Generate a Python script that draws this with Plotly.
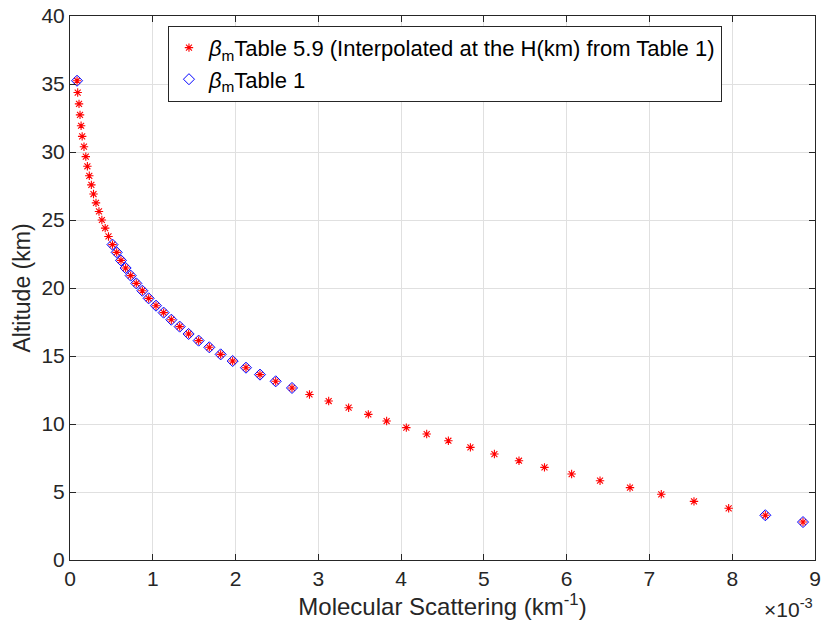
import plotly.graph_objects as go

# Altitude (km) of each point of the interpolated series
alt_table59 = [35.24, 34.37, 33.54, 32.73, 31.93, 31.15, 30.39, 29.66, 28.95, 28.25,
               27.58, 26.91, 26.26, 25.63, 25.00, 24.40, 23.79, 23.19, 22.62, 22.03,
               21.47, 20.91, 20.34, 19.80, 19.24, 18.70, 18.19, 17.67, 17.16, 16.62,
               16.13, 15.64, 15.12, 14.63, 14.14, 13.63, 13.14, 12.65, 12.17, 11.69,
               11.20, 10.71, 10.22, 9.73, 9.26, 8.77, 8.28, 7.79, 7.30, 6.81,
               6.32, 5.83, 5.32, 4.83, 4.31, 3.80, 3.29, 2.79]
# Molecular scattering (x 1e-3 km^-1)
beta_table59 = [0.085, 0.093, 0.109, 0.121, 0.134, 0.147, 0.169, 0.191, 0.210, 0.233,
                0.258, 0.284, 0.314, 0.350, 0.385, 0.425, 0.465, 0.513, 0.564, 0.616,
                0.672, 0.733, 0.801, 0.874, 0.950, 1.039, 1.131, 1.224, 1.325, 1.433,
                1.554, 1.683, 1.820, 1.965, 2.126, 2.295, 2.485, 2.682, 2.893, 3.125,
                3.366, 3.604, 3.825, 4.063, 4.309, 4.571, 4.837, 5.127, 5.424, 5.732,
                6.060, 6.403, 6.765, 7.143, 7.538, 7.957, 8.400, 8.855]

alt_table1 = [35.24, 23.19, 22.62, 22.03, 21.47, 20.91, 20.34, 19.80, 19.24, 18.70,
              18.19, 17.67, 17.16, 16.62, 16.13, 15.64, 15.12, 14.63, 14.14, 13.63,
              13.14, 12.65, 3.29, 2.79]
beta_table1 = [0.085, 0.513, 0.564, 0.616, 0.672, 0.733, 0.801, 0.874, 0.950, 1.039,
               1.131, 1.224, 1.325, 1.433, 1.554, 1.683, 1.820, 1.965, 2.126, 2.295,
               2.485, 2.682, 8.400, 8.855]

x_ticks = [0, 1, 2, 3, 4, 5, 6, 7, 8, 9]
y_ticks = [0, 5, 10, 15, 20, 25, 30, 35, 40]

FONT = "Liberation Sans, Arial, sans-serif"
AX = "#262626"
GRID = "#e0e0e0"

fig = go.Figure()
fig.add_trace(go.Scatter(
    x=beta_table59, y=alt_table59, mode="markers",
    name="<i>β</i><sub>m</sub>Table 5.9 (Interpolated at the H(km) from Table 1)",
    marker=dict(symbol="asterisk-open", size=7, color="red",
                line=dict(color="red", width=1.1)),
))
fig.add_trace(go.Scatter(
    x=beta_table1, y=alt_table1, mode="markers",
    name="<i>β</i><sub>m</sub>Table 1",
    marker=dict(symbol="diamond-open", size=8.5, color="blue",
                line=dict(color="blue", width=1)),
))

axis_common = dict(
    showgrid=True, gridcolor=GRID, gridwidth=1,
    showline=True, linecolor=AX, linewidth=1, mirror="ticks",
    ticks="inside", ticklen=6, tickcolor=AX, tickwidth=1,
    zeroline=False, automargin=False,
    tickfont=dict(family=FONT, size=21, color=AX),
)

fig.update_layout(
    width=823, height=632,
    margin=dict(l=70, r=8, t=16, b=72),
    paper_bgcolor="white", plot_bgcolor="white",
    font=dict(family=FONT, color=AX),
    xaxis=dict(range=[0, 9], tickvals=x_ticks, ticktext=[str(v) for v in x_ticks],
               title=dict(text="Molecular Scattering (km<sup>-1</sup>)",
                          font=dict(family=FONT, size=24, color=AX), standoff=8),
               **axis_common),
    yaxis=dict(range=[0, 40], tickvals=y_ticks, ticktext=[str(v) for v in y_ticks],
               title=dict(text="Altitude (km)",
                          font=dict(family=FONT, size=23, color=AX), standoff=4),
               **axis_common),
    legend=dict(x=0.1315, y=0.982, xanchor="left", yanchor="top",
                bgcolor="white", bordercolor=AX, borderwidth=1,
                font=dict(family=FONT, size=22, color="black"),
                tracegroupgap=0),
    showlegend=True,
    annotations=[dict(text="×10<sup>-3</sup>", xref="paper", yref="paper",
                      x=1.0, y=-0.06, xanchor="right", yanchor="top",
                      showarrow=False, font=dict(family=FONT, size=21, color=AX))],
)

fig.write_html("out.html", config={"displayModeBar": False})

# remove the default page margin so the figure sits at the window's corner
with open("out.html", "r", encoding="utf-8") as f:
    html = f.read()
html = html.replace("<head>", "<head><style>html,body{margin:0;padding:0;overflow:hidden}</style>", 1)
with open("out.html", "w", encoding="utf-8") as f:
    f.write(html)
